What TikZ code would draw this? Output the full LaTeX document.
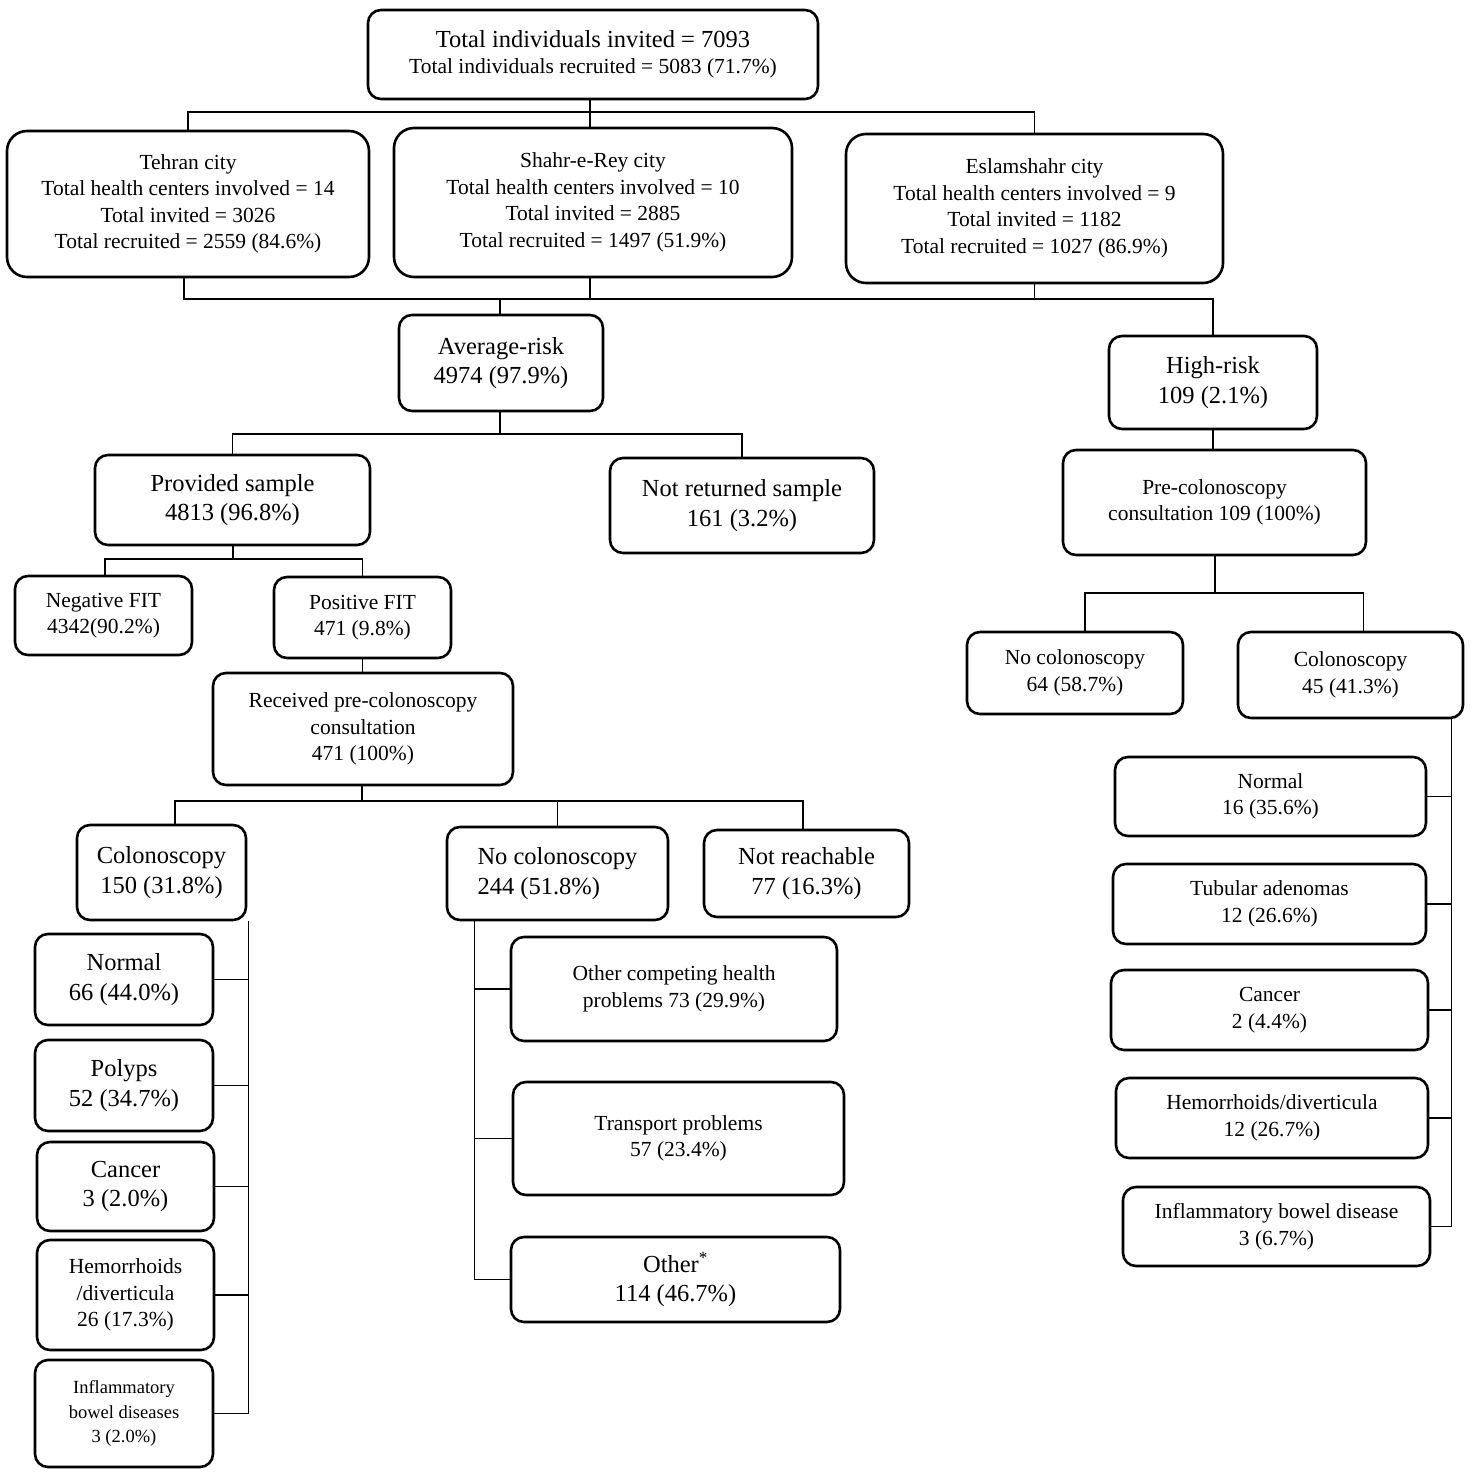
\documentclass[tikz,border=0pt]{standalone}
\usepackage{fontspec}
\setmainfont{Liberation Serif}
\begin{document}
\begin{tikzpicture}[x=1pt,y=-1pt,
  bx/.style 2 args={draw, line width=2.6pt, rounded corners=13pt, align=center, inner sep=0pt, minimum width=#1, minimum height=#2},
  fL/.style={font=\fontsize{24.5}{29.5}\selectfont},
  fM/.style={font=\fontsize{21.5}{26.5}\selectfont},
  fS/.style={font=\fontsize{18.5}{24.5}\selectfont},
  ln/.style={line width=1.4pt, line cap=rect}]
\useasboundingbox (0,0) rectangle (1473,1474);

% top level
\node[bx={450pt}{89pt}, fL] (top) at (593,54.5) {Total individuals invited = 7093\\[-4pt]{\fontsize{21.5}{26}\selectfont Total individuals recruited = 5083 (71.7\%)}};
\node[bx={362pt}{146pt}, fM, rounded corners=20pt] (teh) at (188,204) {Tehran city\\Total health centers involved = 14\\Total invited = 3026\\Total recruited = 2559 (84.6\%)};
\node[bx={398pt}{149pt}, fM, rounded corners=20pt] (shr) at (593,202.5) {Shahr-e-Rey city\\Total health centers involved = 10\\Total invited = 2885\\Total recruited = 1497 (51.9\%)};
\node[bx={377pt}{149pt}, fM, rounded corners=20pt] (esl) at (1034.5,208.5) {Eslamshahr city\\Total health centers involved = 9\\Total invited = 1182\\Total recruited = 1027 (86.9\%)};

% risk groups
\node[bx={204pt}{96pt}, fL] (avg) at (501,363) {Average-risk\\4974 (97.9\%)};
\node[bx={208pt}{93pt}, fL] (hr) at (1213,382.5) {High-risk\\109 (2.1\%)};

% average-risk branch
\node[bx={275pt}{90pt}, fL] (prov) at (232.5,500) {Provided sample\\4813 (96.8\%)};
\node[bx={264pt}{95pt}, fL] (notret) at (742,505.5) {Not returned sample\\161 (3.2\%)};
\node[bx={177pt}{79pt}, fM] (neg) at (103.5,615.5) {Negative FIT\\4342(90.2\%)};
\node[bx={177pt}{81pt}, fM] (pos) at (362.5,617.5) {Positive FIT\\471 (9.8\%)};
\node[bx={300pt}{112pt}, fM] (rec) at (363,729) {Received pre-colonoscopy\\consultation\\471 (100\%)};
\node[bx={169pt}{95pt}, fL] (acol) at (161.5,872.5) {Colonoscopy\\150 (31.8\%)};
\node[bx={221pt}{93pt}, fL, align=left] (anoc) at (557.5,873.5) {No colonoscopy\\244 (51.8\%)};
\node[bx={205pt}{87pt}, fL] (nrch) at (806.5,873.5) {Not reachable\\77 (16.3\%)};

\node[bx={178pt}{91pt}, fL] (a1) at (124,979.5) {Normal\\66 (44.0\%)};
\node[bx={178pt}{91pt}, fL] (a2) at (124,1085.5) {Polyps\\52 (34.7\%)};
\node[bx={177pt}{89pt}, fL] (a3) at (125.5,1186.5) {Cancer\\3 (2.0\%)};
\node[bx={177pt}{110pt}, fM] (a4) at (125.5,1295) {Hemorrhoids\\/diverticula\\26 (17.3\%)};
\node[bx={178pt}{107pt}, fS] (a5) at (124,1413.5) {Inflammatory\\bowel diseases\\3 (2.0\%)};

\node[bx={326pt}{104pt}, fM] (oc) at (674,989) {Other competing health\\problems 73 (29.9\%)};
\node[bx={331pt}{113pt}, fM] (tr) at (678.5,1138.5) {Transport problems\\57 (23.4\%)};
\node[bx={329pt}{85pt}, fL] (ot) at (675.5,1279.5) {Other\textsuperscript{*}\\114 (46.7\%)};

% high-risk branch
\node[bx={303pt}{105pt}, fM] (pre) at (1214.5,502.5) {Pre-colonoscopy\\consultation 109 (100\%)};
\node[bx={216pt}{82pt}, fM] (hno) at (1075,673) {No colonoscopy\\64 (58.7\%)};
\node[bx={225pt}{86pt}, fM] (hcol) at (1350.5,675) {Colonoscopy\\45 (41.3\%)};
\node[bx={311pt}{79pt}, fM] (h1) at (1270.5,796.5) {Normal\\16 (35.6\%)};
\node[bx={313pt}{80pt}, fM] (h2) at (1269.5,904) {Tubular adenomas\\12 (26.6\%)};
\node[bx={317pt}{80pt}, fM] (h3) at (1269.5,1010) {Cancer\\2 (4.4\%)};
\node[bx={312pt}{80pt}, fM] (h4) at (1272,1118) {Hemorrhoids/diverticula\\12 (26.7\%)};
\node[bx={307pt}{79pt}, fM] (h5) at (1276.5,1226.5) {Inflammatory bowel disease\\3 (6.7\%)};

% junction coordinates
\coordinate (j1) at (590,112);
\coordinate (j2) at (590,299);
\coordinate (j3) at (500,434);
\coordinate (j4) at (1215,593);
\coordinate (j5) at (233,559);
\coordinate (j6) at (362,801);
\coordinate (av) at ([xshift=29pt]anoc.south west);
\coordinate (cv) at ([xshift=1pt]acol.south east);
\coordinate (hv) at ([xshift=-13pt]hcol.south east);

% connectors
\draw[ln] (top.south -| j1) -- (j1);
\draw[ln] (teh.north) |- (j1) -| (esl.north);
\draw[ln] (shr.north -| j1) -- (j1);

\draw[ln] ([xshift=-4pt]teh.south) |- (j2) -| (hr.north);
\draw[ln] (shr.south -| j2) -- (j2);
\draw[ln] (esl.south) -- (esl.south |- j2);
\draw[ln] (avg.north -| j3) -- (j3 |- j2);

\draw[ln] (avg.south -| j3) -- (j3);
\draw[ln] (prov.north) |- (j3) -| (notret.north);

\draw[ln] (hr.south) -- (hr.south |- pre.north);
\draw[ln] (pre.south -| j4) -- (j4);
\draw[ln] ([xshift=10pt]hno.north) |- (j4) -| ([xshift=13pt]hcol.north);

\draw[ln] (prov.south -| j5) -- (j5);
\draw[ln] ([xshift=1.5pt]neg.north) |- (j5) -| (pos.north);
\draw[ln] (pos.south) -- (pos.south |- rec.north);

\draw[ln] (rec.south -| j6) -- (j6);
\draw[ln] ([xshift=13.5pt]acol.north) |- (j6) -| ([xshift=-3.5pt]nrch.north);
\draw[ln] (anoc.north) -- (anoc.north |- j6);

\draw[ln] (cv) |- (a5.east);
\foreach \n in {a1,a2,a3,a4} \draw[ln] (\n.east) -- (\n.east -| cv);

\draw[ln] (av) |- (ot.west);
\foreach \n in {oc,tr} \draw[ln] (\n.west) -- (\n.west -| av);

\draw[ln] (hv) |- (h5.east);
\foreach \n in {h1,h2,h3,h4} \draw[ln] (\n.east) -- (\n.east -| hv);
\end{tikzpicture}
\end{document}
